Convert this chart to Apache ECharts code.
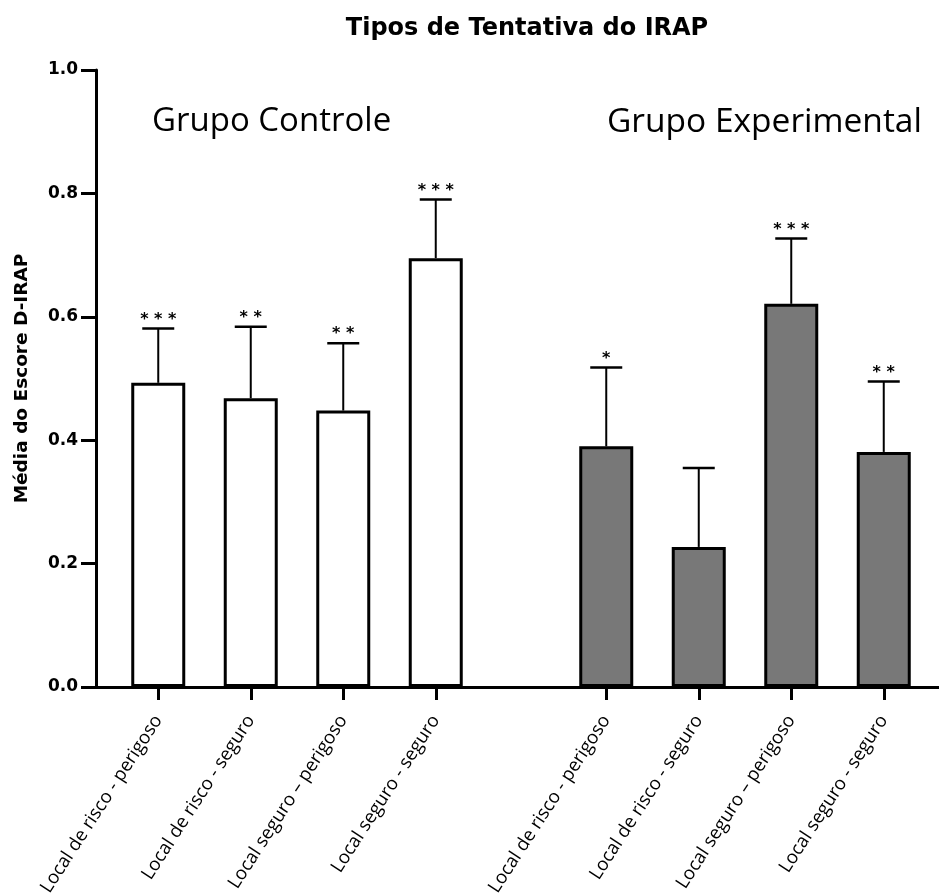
<!DOCTYPE html>
<html>
<head>
<meta charset="utf-8">
<script src="https://cdn.jsdelivr.net/npm/echarts@6/dist/echarts.min.js"></script>
<style>html,body{margin:0;padding:0;background:#fff}#c{width:939px;height:894px}</style>
</head>
<body>
<div id="c"></div>
<script>
// ---- data ----
const categories = ["Local de risco - perigoso", "Local de risco - seguro", "Local seguro \u2013 perigoso", "Local seguro - seguro"];
const controlMeans = [0.493, 0.468, 0.448, 0.695];
const controlErr = [0.088, 0.116, 0.109, 0.095];
const controlStars = ["***", "**", "**", "***"];
const expMeans = [0.390, 0.227, 0.621, 0.381];
const expErr = [0.128, 0.128, 0.106, 0.114];
const expStars = ["*", "", "***", "**"];
const yTicks = [0, 0.2, 0.4, 0.6, 0.8, 1.0];
const titleText = "Tipos de Tentativa do IRAP";
const groupNames = ["Grupo Controle", "Grupo Experimental"];
const yName = "Média do Escore D-IRAP";

// ---- chart ----
const chart = echarts.init(document.getElementById('c'));
const TOP = 70, BOTTOM = 207;
const labelFont = "'Open Sans', sans-serif";
const boldFont = "'DejaVu Sans', sans-serif";

function errData(means, errs) {
  return means.map((m, i) => [i, m, m + errs[i]]);
}
const starsBySeries = { ctrlErr: controlStars, expErr: expStars };
function renderErr(params, api) {
  const x = api.value(0);
  const base = api.coord([x, api.value(1)]);
  const top = api.coord([x, api.value(2)]);
  const star = starsBySeries[params.seriesName][params.dataIndex];
  const half = 16;
  return {
    type: 'group',
    children: [
      { type: 'line', shape: { x1: base[0], y1: base[1], x2: top[0], y2: top[1] }, style: { stroke: '#000', lineWidth: 2 } },
      { type: 'line', shape: { x1: top[0] - half, y1: top[1], x2: top[0] + half, y2: top[1] }, style: { stroke: '#000', lineWidth: 2.5 } },
      { type: 'text', x: top[0], y: top[1] - 9, style: { text: star.split('').join(' '), fill: '#000', font: "bold 16px 'DejaVu Sans', sans-serif", align: 'center', verticalAlign: 'middle' } }
    ]
  };
}

function catAxis(gridIndex) {
  return {
    type: 'category', gridIndex, data: categories,
    axisLine: { show: false },
    axisTick: { show: true, alignWithLabel: true, length: 13, lineStyle: { color: '#000', width: 3 } },
    axisLabel: { rotate: 57, margin: 30, color: '#000', fontSize: 18.5, fontFamily: labelFont, interval: 0 },
    splitLine: { show: false }
  };
}
function hiddenY(gridIndex) {
  return { type: 'value', gridIndex, min: 0, max: 1, show: false, splitLine: { show: false } };
}
function gridAt(extra) {
  return Object.assign({ top: TOP, bottom: BOTTOM, containLabel: false, outerBoundsMode: 'none' }, extra);
}

const option = {
  backgroundColor: '#fff',
  animation: false,
  title: [
    { text: titleText, left: 522, textAlign: 'center', top: 12,
      textStyle: { fontFamily: boldFont, fontWeight: 'bold', fontSize: 24, color: '#000' } },
    { text: groupNames[0], left: 147, top: 100,
      textStyle: { fontFamily: labelFont, fontWeight: 'normal', fontSize: 33, color: '#000' } },
    { text: groupNames[1], left: 602, top: 100,
      textStyle: { fontFamily: labelFont, fontWeight: 'normal', fontSize: 33.5, color: '#000' } }
  ],
  grid: [
    gridAt({ left: 96, right: 0 }),
    gridAt({ left: 112, width: 370 }),
    gridAt({ left: 560, width: 370 })
  ],
  xAxis: [
    { type: 'value', gridIndex: 0, min: 0, max: 1,
      axisLine: { show: true, onZero: false, lineStyle: { color: '#000', width: 3 } },
      axisTick: { show: false }, axisLabel: { show: false }, splitLine: { show: false } },
    catAxis(1),
    catAxis(2)
  ],
  yAxis: [
    { type: 'value', gridIndex: 0, min: yTicks[0], max: yTicks[yTicks.length - 1], interval: 0.2,
      name: yName, nameLocation: 'middle', nameGap: 64, nameRotate: 90,
      nameTextStyle: { fontFamily: boldFont, fontWeight: 'bold', fontSize: 18.5, color: '#000' },
      axisLine: { show: true, lineStyle: { color: '#000', width: 3 } },
      axisTick: { show: true, length: 15, lineStyle: { color: '#000', width: 3 } },
      axisLabel: { margin: 18, color: '#000', fontWeight: 'bold', fontSize: 17, fontFamily: boldFont,
        formatter: v => v.toFixed(1) },
      splitLine: { show: false } },
    hiddenY(1),
    hiddenY(2)
  ],
  series: [
    { name: 'ctrl', type: 'bar', xAxisIndex: 1, yAxisIndex: 1, data: controlMeans, barWidth: 54,
      itemStyle: { color: '#fff', borderColor: '#000', borderWidth: 3 }, z: 3 },
    { name: 'exp', type: 'bar', xAxisIndex: 2, yAxisIndex: 2, data: expMeans, barWidth: 54,
      itemStyle: { color: '#787878', borderColor: '#000', borderWidth: 3 }, z: 3 },
    { name: 'ctrlErr', type: 'custom', xAxisIndex: 1, yAxisIndex: 1, data: errData(controlMeans, controlErr),
      renderItem: renderErr, z: 2, encode: { x: 0, y: [1, 2] } },
    { name: 'expErr', type: 'custom', xAxisIndex: 2, yAxisIndex: 2, data: errData(expMeans, expErr),
      renderItem: renderErr, z: 2, encode: { x: 0, y: [1, 2] } }
  ]
};
chart.setOption(option);
</script>
</body>
</html>
